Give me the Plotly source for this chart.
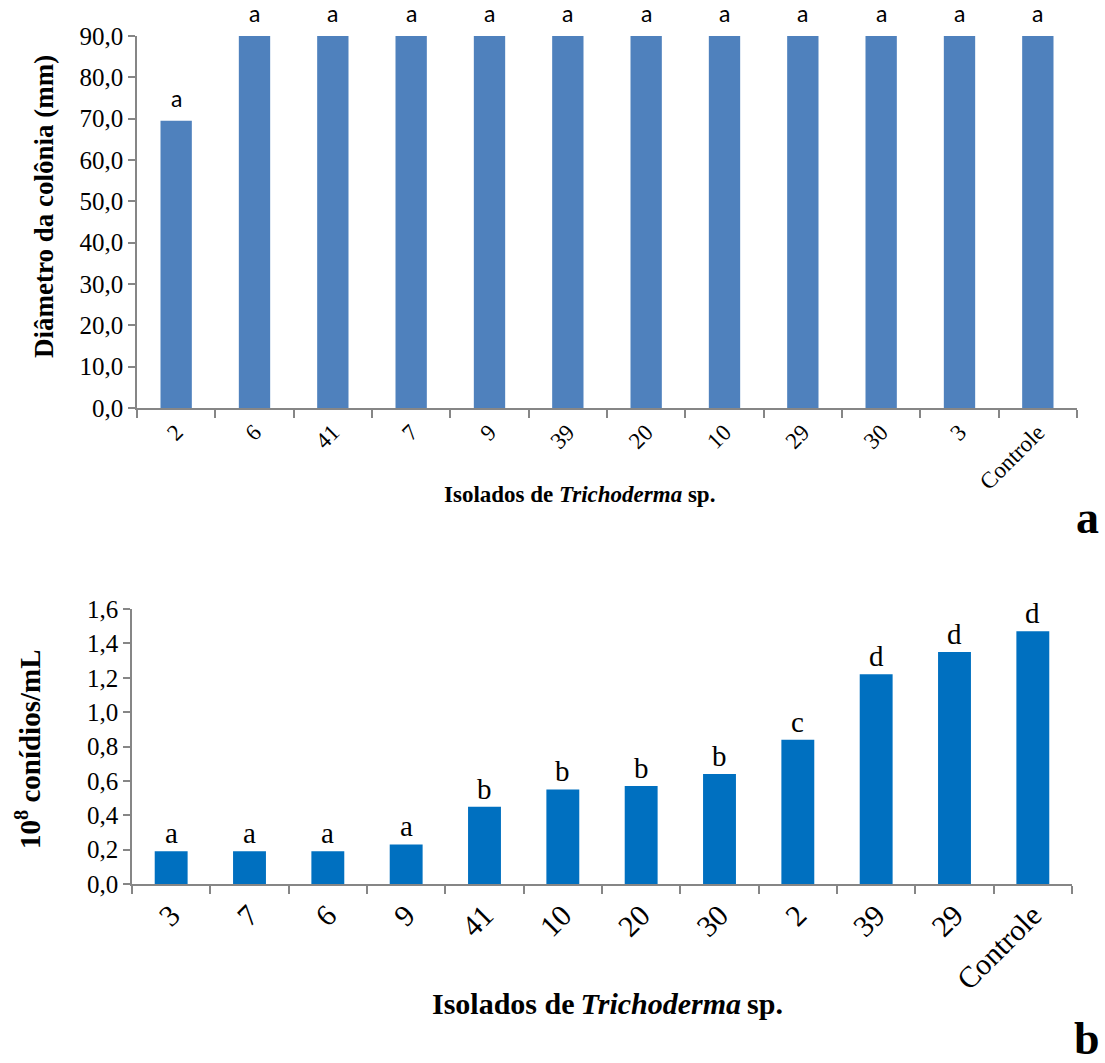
import plotly.graph_objects as go

# ---- Data: panel a (colony diameter) ----
cats_a = ["2", "6", "41", "7", "9", "39", "20", "10", "29", "30", "3", "Controle"]
vals_a = [69.5, 90.0, 90.0, 90.0, 90.0, 90.0, 90.0, 90.0, 90.0, 90.0, 90.0, 90.0]
letters_a = ["a"] * 12

# ---- Data: panel b (conidia) ----
cats_b = ["3", "7", "6", "9", "41", "10", "20", "30", "2", "39", "29", "Controle"]
vals_b = [0.19, 0.19, 0.19, 0.23, 0.45, 0.55, 0.57, 0.64, 0.84, 1.22, 1.35, 1.47]
letters_b = ["a", "a", "a", "a", "b", "b", "b", "b", "c", "d", "d", "d"]

W, H = 1105, 1063
SERIF = "Liberation Serif, Times New Roman, serif"
SANS = "Lato, Carlito, Liberation Sans, sans-serif"
AXC = "#868686"


def px(x):
    return x / W


def py(y):
    return 1 - y / H


fig = go.Figure()
fig.add_trace(go.Bar(x=cats_a, y=vals_a, width=0.4, marker=dict(color="#4F81BD", line=dict(width=0)),
                     xaxis="x", yaxis="y", showlegend=False, hoverinfo="x+y"))
fig.add_trace(go.Bar(x=cats_b, y=vals_b, width=0.42, marker=dict(color="#0070C0", line=dict(width=0)),
                     xaxis="x2", yaxis="y2", showlegend=False, hoverinfo="x+y"))

common_x = dict(type="category", showline=True, linecolor=AXC, linewidth=1.5,
                ticks="outside", tickson="boundaries", ticklen=8, tickcolor=AXC, tickwidth=1.5,
                tickangle=-45, showgrid=False, zeroline=False, range=[-0.5, 11.5], automargin=False)
common_y = dict(showline=True, linecolor=AXC, linewidth=1.5, ticks="outside", ticklen=7,
                tickcolor=AXC, tickwidth=1.5, showgrid=False, zeroline=False, automargin=False)

annotations = []
for i, (v, t) in enumerate(zip(vals_a, letters_a)):
    annotations.append(dict(x=i, y=v, xref="x", yref="y", text=t, showarrow=False,
                            yanchor="bottom", yshift=7, font=dict(family=SANS, size=23, color="black")))
for i, (v, t) in enumerate(zip(vals_b, letters_b)):
    annotations.append(dict(x=i, y=v, xref="x2", yref="y2", text=t, showarrow=False,
                            yanchor="bottom", yshift=0, font=dict(family=SERIF, size=29, color="black")))

# axis titles and panel labels
C = dict(xref="paper", yref="paper", showarrow=False, xanchor="center", yanchor="middle")
annotations += [
    dict(C, x=px(44), y=py(207), text="<b>Diâmetro da colônia (mm)</b>", textangle=-90,
         font=dict(family=SERIF, size=27, color="black")),
    dict(C, x=px(579), y=py(494), text="<b>Isolados de <i>Trichoderma</i> sp.</b>",
         font=dict(family=SERIF, size=23, color="black")),
    dict(C, x=px(1087), y=py(518), text="<b>a</b>", font=dict(family=SERIF, size=46, color="black")),
    dict(C, x=px(28), y=py(750), text="<b>10<sup>8</sup> conídios/mL</b>", textangle=-90,
         font=dict(family=SERIF, size=29, color="black")),
    dict(C, x=px(607), y=py(1003), text="<b>Isolados de\u2009<i>Trichoderma</i>\u2009sp.</b>",
         font=dict(family=SERIF, size=30, color="black")),
    dict(C, x=px(1087), y=py(1038), text="<b>b</b>", font=dict(family=SERIF, size=46, color="black")),
]

fig.update_layout(
    width=W, height=H,
    margin=dict(l=0, r=0, t=0, b=0, autoexpand=False),
    paper_bgcolor="white", plot_bgcolor="white",
    separators=",.",
    xaxis=dict(common_x, domain=[px(137), px(1077)], anchor="y",
               tickfont=dict(family=SERIF, size=23, color="black")),
    yaxis=dict(common_y, domain=[py(408), py(36)], anchor="x", range=[0, 90], dtick=10,
               tickformat=".1f", tickfont=dict(family=SERIF, size=25, color="black")),
    xaxis2=dict(common_x, domain=[px(132), px(1072)], anchor="y2",
                tickfont=dict(family=SERIF, size=30, color="black")),
    yaxis2=dict(common_y, domain=[py(884), py(609)], anchor="x2", range=[0, 1.6], dtick=0.2,
                tickformat=".1f", tickfont=dict(family=SERIF, size=25, color="black")),
    annotations=annotations,
    font=dict(family=SERIF, color="black"),
)

# remove the browser's default 8px body margin so the figure fills the window exactly
fig.write_html("out.html", config={"displayModeBar": False},
               post_script="document.body.style.margin='0';document.body.style.overflow='hidden';")
